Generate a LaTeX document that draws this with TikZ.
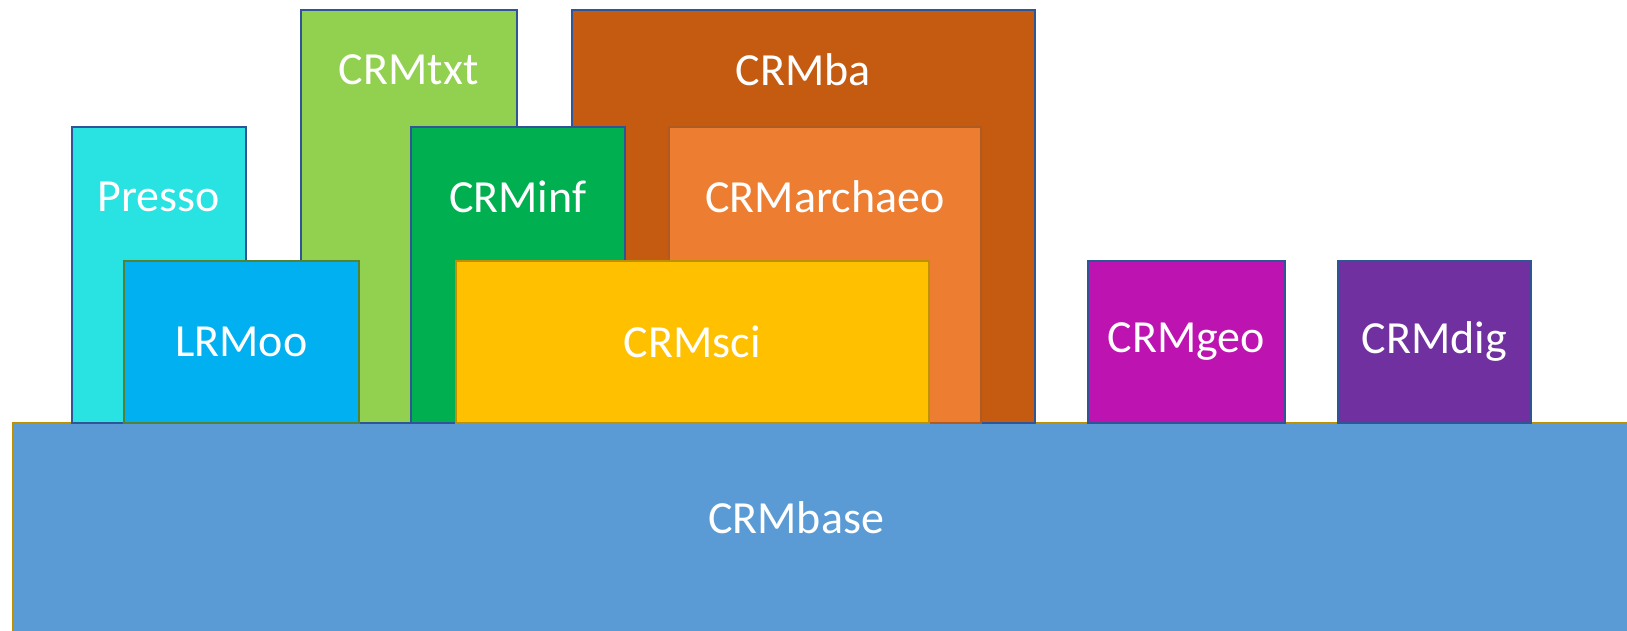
\documentclass[tikz,border=0pt]{standalone}
\usepackage{fontspec}
\setmainfont{Carlito}
\definecolor{basefill}{HTML}{5B9BD5}
\definecolor{goldline}{HTML}{BF9000}
\definecolor{blueline}{HTML}{2F5597}
\definecolor{pressofill}{HTML}{29E2E2}
\definecolor{txtfill}{HTML}{92D050}
\definecolor{bafill}{HTML}{C55A11}
\definecolor{inffill}{HTML}{00B050}
\definecolor{archfill}{HTML}{ED7D31}
\definecolor{archline}{HTML}{AE5A21}
\definecolor{lrmfill}{HTML}{00B0F0}
\definecolor{greenline}{HTML}{548235}
\definecolor{scifill}{HTML}{FFC000}
\definecolor{geofill}{HTML}{BD13B0}
\definecolor{digfill}{HTML}{7030A0}
\tikzset{
  box/.style={rectangle, draw=blueline, line width=1.6pt, inner sep=0pt, anchor=north west},
  lbl/.style={text=white, font=\fontsize{46}{52}\selectfont, inner sep=0pt}
}
\begin{document}
\begin{tikzpicture}[x=1pt,y=-1pt]
\useasboundingbox (0,0) rectangle (1627,630);
\clip (0,0) rectangle (1627,630);
% base
\node[box, draw=goldline, fill=basefill, minimum width=1640, minimum height=230] (base) at (12,422) {};
\node[lbl] at (796,518) {CRMbase};
% Presso
\node[box, fill=pressofill, minimum width=174, minimum height=296] (presso) at (71,126) {};
\node[lbl] at ([yshift=-71pt]presso.north) {Presso};
% CRMtxt
\node[box, fill=txtfill, minimum width=216, minimum height=413] (txt) at (300,9) {};
\node[lbl] at ([yshift=-61pt]txt.north) {CRMtxt};
% CRMba
\node[box, fill=bafill, minimum width=463, minimum height=413] (ba) at (571,9) {};
\node[lbl] at ([yshift=-61pt]ba.north) {CRMba};
% CRMinf
\node[box, fill=inffill, minimum width=214, minimum height=296] (inf) at (410,126) {};
\node[lbl] at ([yshift=-71pt]inf.north) {CRMinf};
% CRMarchaeo
\node[box, draw=archline, fill=archfill, minimum width=312, minimum height=296] (arch) at (668,126) {};
\node[lbl] at ([yshift=-71pt]arch.north) {CRMarchaeo};
% LRMoo
\node[box, draw=greenline, fill=lrmfill, minimum width=235, minimum height=162] (lrm) at (123,260) {};
\node[lbl] at (lrm.center) {LRMoo};
% CRMsci
\node[box, draw=goldline, fill=scifill, minimum width=473, minimum height=162] (sci) at (455,260) {};
\node[lbl] at (sci.center) {CRMsci};
% CRMgeo
\node[box, fill=geofill, minimum width=197, minimum height=162] (geo) at (1087,260) {};
\node[lbl] at (geo.center) {CRMgeo};
% CRMdig
\node[box, fill=digfill, minimum width=193, minimum height=162] (dig) at (1337,260) {};
\node[lbl] at (dig.center) {CRMdig};
\end{tikzpicture}
\end{document}
